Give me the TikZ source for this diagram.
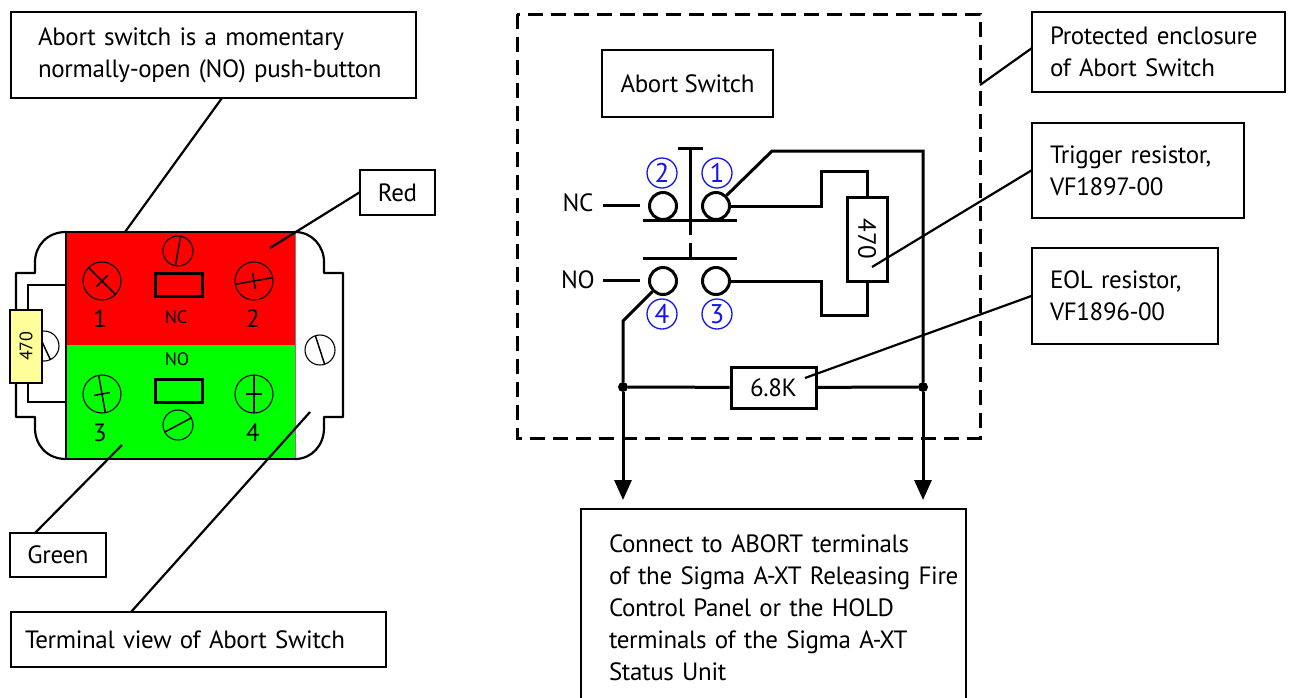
\documentclass[tikz,border=0pt]{standalone}
\usepackage{fontspec}
\setmainfont[LetterSpace=-1.4]{PT Sans}
\usetikzlibrary{arrows.meta}
\definecolor{termred}{RGB}{255,0,0}
\definecolor{termgreen}{RGB}{0,255,0}
\definecolor{resyellow}{RGB}{255,255,153}
\definecolor{numblue}{RGB}{20,20,240}
\tikzset{
  notebox/.style={draw, line width=1.4pt, fill=white, align=left, font=\fontsize{25}{32}\selectfont, inner sep=0pt},
  leader/.style={line width=2.2pt},
  wire/.style={line width=3pt},
  contact/.style={draw, circle, line width=3pt, fill=white, minimum size=27pt, inner sep=0pt},
  numcircle/.style={draw=numblue, text=numblue, circle, line width=1.3pt, minimum size=30pt, inner sep=0pt, font=\fontsize{27}{27}\selectfont},
  junction/.style={circle, fill=black, minimum size=10pt, inner sep=0pt},
  smalltext/.style={font=\fontsize{18}{18}\selectfont, inner sep=0pt},
  bigtext/.style={font=\fontsize{25}{25}\selectfont, inner sep=0pt}
}
\begin{document}
\begin{tikzpicture}[x=1pt,y=-1pt]
\useasboundingbox (0,0) rectangle (1297,697);

% terminal block
\fill[termred] (66,232) rectangle (295,345);
\fill[termgreen] (66,345) rectangle (295,459);
\draw[line width=2.2pt] (66,232) -- (295,232) (66,459) -- (295,459) (66,232) -- (66,459);
\draw[gray, line width=1pt] (295,232) -- (295,459);
\draw[line width=2.2pt, line join=round] (66,232) .. controls (47,232) and (35,246) .. (35,262) -- (35,273) -- (16,273) -- (16,417) -- (35,417) -- (35,428) .. controls (35,445) and (47,459) .. (66,459);
\draw[line width=2.2pt, line join=round] (295,232) .. controls (312,232) and (324,246) .. (324,262) -- (324,273) -- (343,273) -- (343,417) -- (324,417) -- (324,428) .. controls (324,445) and (312,459) .. (295,459);
\draw[line width=2.2pt] (66,285) -- (28,285) -- (28,402) -- (66,402);
\draw[line width=3pt] (155,273) rectangle (202,296);
\draw[line width=3pt] (155,379) rectangle (202,402);

% big screws
\foreach \sx/\sy/\ang in {102/281/45, 254/281/-10, 102/394/80, 254/394/90}{
  \draw[line width=1.1pt] (\sx,\sy) circle (19);
  \draw[line width=1.5pt, rotate around={-\ang:(\sx,\sy)}] (\sx-19,\sy) -- (\sx+19,\sy) (\sx,\sy-8) -- (\sx,\sy+8);
}
% small screws
\foreach \sx/\sy/\ang in {178/251/100, 178/425/-28, 320/350/72, 44/346/65}{
  \draw[line width=1.1pt] (\sx,\sy) circle (15);
  \draw[line width=1.5pt, rotate around={-\ang:(\sx,\sy)}] (\sx-15,\sy) -- (\sx+15,\sy);
}
\node[draw, line width=1.2pt, fill=resyellow, minimum width=32pt, minimum height=73pt, inner sep=0pt] (resblock) at (26,346.5) {};
\node[smalltext, rotate=90] (resblocktext) at (26,346.5) {470};
\node[bigtext] (num1) at (100,319) {1};
\node[bigtext] (num2) at (253,319) {2};
\node[bigtext] (num3) at (100,433) {3};
\node[bigtext] (num4) at (253,433) {4};
\node[smalltext] (nclabel) at (176,317) {NC};
\node[smalltext] (nolabel) at (177,359) {NO};

% left notes
\node[notebox, text width=351pt, inner xsep=27pt, minimum height=86pt] (abortnote) at (213.5,55) {Abort switch is a momentary\\normally-open (NO) push-button};
\node[notebox, minimum width=75pt, minimum height=45pt, align=center] (rednote) at (397.5,192.5) {Red};
\node[notebox, minimum width=96pt, minimum height=44pt, align=center] (greennote) at (58,555) {Green};
\node[notebox, text width=347pt, inner xsep=14pt, minimum height=55pt] (termnote) at (198.5,639.5) {Terminal view of Abort Switch};
\coordinate (abortend) at (125,232);
\coordinate (redend) at (270,248);
\coordinate (greenend) at (122,445);
\coordinate (termend) at (310,412);
\coordinate (abortstart) at (222,98);
\coordinate (greenstart) at (35,533);
\coordinate (termstart) at (131,612);
\draw[leader] (abortstart) -- (abortend);
\draw[leader] (rednote.west) -- (redend);
\draw[leader] (greenstart) -- (greenend);
\draw[leader] (termstart) -- (termend);

% enclosure
\draw[line width=3pt, dash pattern=on 15pt off 8pt] (517,14) rectangle (980,438);
\node[notebox, minimum width=171pt, minimum height=67pt, align=center] (switchlabel) at (687.5,83.5) {Abort Switch};

% contacts
\node[contact] (term2) at (663,206) {};
\node[contact] (term1) at (716,206) {};
\node[contact] (term4) at (663,281) {};
\node[contact] (term3) at (716,281) {};
\node[numcircle] (circ2) at (662,173) {2};
\node[numcircle] (circ1) at (717,173) {1};
\node[numcircle] (circ4) at (662,314) {4};
\node[numcircle] (circ3) at (717,314) {3};
\node[bigtext] (nctext) at (578,203) {NC};
\node[bigtext] (notext) at (578,280) {NO};
\coordinate (ncstart) at (603,205);
\coordinate (nostart) at (603,280);
\draw[wire] (ncstart) -- (640,205);
\draw[wire] (nostart) -- (640,280);

% plunger
\draw[wire] (678,148) -- (703,148);
\draw[wire] (690,148) -- (690,235);
\draw[wire] (690,243) -- (690,258);
\draw[wire] (643,220) -- (737,220);
\draw[wire] (643,258) -- (737,258);

% resistors
\node[draw, wire, fill=white, minimum width=40pt, minimum height=84pt, inner sep=0pt] (trigres) at (867,239) {};
\node[bigtext, rotate=-90] (trigtext) at (867,239) {470};
\node[draw, wire, fill=white, minimum width=85pt, minimum height=41pt, bigtext] (eolres) at (773.5,387.5) {6.8K};

% wiring
\coordinate (leftturn) at (623,321);
\coordinate (rightturn) at (772,151);
\coordinate (leftarrow) at (623,500);
\coordinate (rightarrow) at (923,500);
\node[junction] (dotleft) at (623,387) {};
\node[junction] (dotright) at (923,387) {};
\draw[wire] (term1.east) -- (821,206) -- (821,171) -- (867,171) -- (trigres.north);
\draw[wire] (term3.east) -- (821,281) -- (821,315) -- (867,315) -- (trigres.south);
\draw[wire] (term1.north east) -- (rightturn) -- (923,151) -- (dotright);
\draw[wire] (term4.south west) -- (leftturn) -- (dotleft);
\draw[wire] (dotleft) -- (eolres);
\draw[wire] (eolres) -- (dotright);
\draw[wire, -{Triangle[length=20pt,width=17pt]}] (dotleft) -- (leftarrow);
\draw[wire, -{Triangle[length=20pt,width=17pt]}] (dotright) -- (rightarrow);

% right notes
\node[notebox, text width=217pt, inner xsep=18pt, minimum height=80pt] (enclnote) at (1158.5,52) {Protected enclosure\\of Abort Switch};
\node[notebox, text width=176pt, inner xsep=18pt, minimum height=95pt] (trignote) at (1138,170.5) {Trigger resistor,\\VF1897-00};
\node[notebox, text width=150pt, inner xsep=18pt, minimum height=96pt] (eolnote) at (1125,296) {EOL resistor,\\VF1896-00};
\node[notebox, text width=329pt, inner xsep=28pt, minimum height=198pt] (connote) at (773.5,608) {Connect to ABORT terminals\\\mbox{of the Sigma A-XT Releasing Fire}\\Control Panel or the HOLD\\terminals of the Sigma A-XT\\Status Unit};
\coordinate (enclend) at (980,85);
\coordinate (enclstart) at (1032,48);
\coordinate (trigend) at (872,267);
\coordinate (eolend) at (805,378);
\draw[leader] (enclstart) -- (enclend);
\draw[leader] (trignote.west) -- (trigend);
\draw[leader] (eolnote.west) -- (eolend);
\end{tikzpicture}
\end{document}
